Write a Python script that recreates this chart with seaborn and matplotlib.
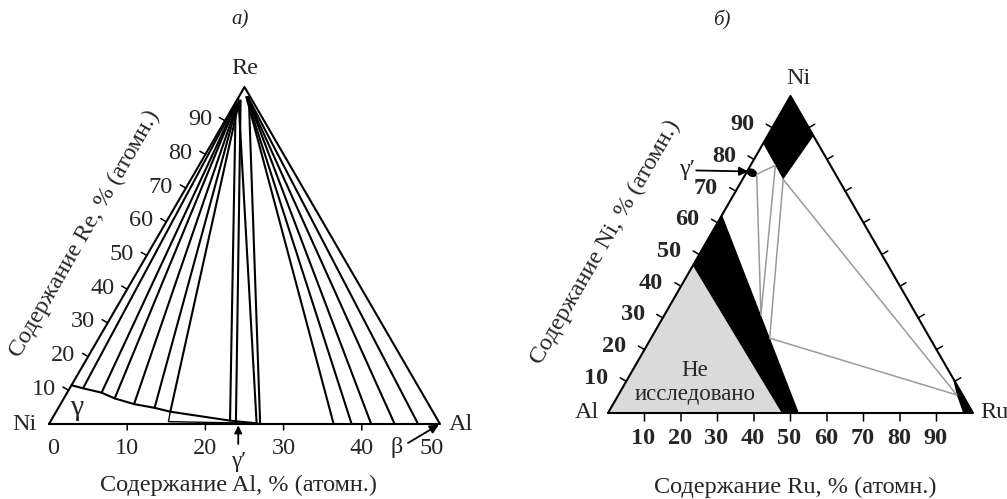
import numpy as np
import pandas as pd
import seaborn as sns
import matplotlib.pyplot as plt
from matplotlib.patches import Ellipse

# ---- а) Ni-Al-Re, compositions in at.% (Al, Re)
gamma_al = [0.0, 1.7, 4.4, 6.5, 9.4, 12.3, 14.6, 22.9, 26.5]
gamma_re = [11.5, 10.6, 9.3, 7.6, 5.9, 4.8, 3.65, 1.0, 0.2]
sliver_al = [14.6, 15.1, 26.7]
sliver_re = [3.65, 0.7, 0.2]
tie_l_al0 = [1.7, 4.4, 6.5, 9.4, 12.3, 14.6, 22.9, 23.9, 26.5, 27.0, 36.4, 38.7, 41.2, 44.2, 47.2]
tie_l_re0 = [10.6, 9.3, 7.6, 5.9, 4.8, 3.65, 1.0, 0.0, 0.2, 0.0, 0.0, 0.0, 0.0, 0.0, 0.0]
tie_l_al1 = [0.1, 0.2, 0.2, 0.3, 0.3, 0.4, 0.0, 0.5, 0.1, 1.3, 1.0, 1.0, 1.1, 1.1, 1.2]
tie_l_re1 = [94.5, 94.8, 95.0, 95.2, 95.4, 95.6, 95.5, 96.0, 96.5, 97.0, 97.0, 97.0, 97.0, 97.0, 97.0]
re_ticks = [10, 20, 30, 40, 50, 60, 70, 80, 90]
al_ticks = [10, 20, 30, 40]
al_labels = [0, 10, 20, 30, 40, 50]

# ---- б) Al-Ni-Ru, compositions in at.% (Ru, Ni)
unexpl_ru = [0.0, 47.6, 0.0]
unexpl_ni = [0.0, 0.0, 46.5]
band_ru = [0.0, 0.0, 52.3, 47.6]
band_ni = [46.5, 62.5, 0.0, 0.0]
niphase_ru = [0.0, 0.0, 11.15, 12.6]
niphase_ni = [100.0, 85.0, 73.7, 87.4]
ruphase_ru = [89.0, 92.7, 97.3, 100.0]
ruphase_ni = [11.0, 5.7, 0.0, 0.0]
gp_ru, gp_ni = 1.5, 75.8
tie_r_ru0 = [3.1, 3.4, 6.8, 11.15, 11.15, 32.5]
tie_r_ni0 = [75.3, 74.7, 78.1, 73.7, 73.7, 23.6]
tie_r_ru1 = [6.8, 26.4, 26.4, 32.5, 92.7, 92.7]
tie_r_ni1 = [78.1, 31.0, 31.0, 23.6, 5.7, 5.7]
ru_ticks = [10, 20, 30, 40, 50, 60, 70, 80, 90]
ni_ticks = [10, 20, 30, 40, 50, 60, 70, 80, 90]

SQ = np.sqrt(3) / 2


def cart_l(al, re):
    al, re = np.asarray(al, float), np.asarray(re, float)
    return al + re / 4, re


def cart_r(ru, ni):
    ru, ni = np.asarray(ru, float), np.asarray(ni, float)
    return ru + ni / 2, ni * SQ


def tie_frame(a0, b0, a1, b1, conv):
    rows = []
    for i, (p0, q0, p1, q1) in enumerate(zip(a0, b0, a1, b1)):
        for p, q in ((p0, q0), (p1, q1)):
            x, y = conv(p, q)
            rows.append(dict(tie=i, x=float(x), y=float(y)))
    return pd.DataFrame(rows)


def tick(ax, xy, dx, dy, lw=1.1):
    ax.annotate('', xy=xy, xytext=(dx, dy), textcoords='offset pixels',
                arrowprops=dict(arrowstyle='-', lw=lw, color='black', shrinkA=0, shrinkB=0),
                annotation_clip=False)


def label(ax, txt, xy, dx, dy, **kw):
    ax.annotate(txt, xy=xy, xytext=(dx, dy), textcoords='offset pixels',
                ha='center', va='center', annotation_clip=False, **kw)


sns.set_style('white')
plt.rcParams['font.family'] = ['Liberation Serif', 'DejaVu Serif']

W, H = 1007, 499
fig = plt.figure(figsize=(W / 100, H / 100), dpi=100)
axl = fig.add_axes([49 / W, (H - 424) / H, 391 / W, 337 / H])
axr = fig.add_axes([608 / W, (H - 413) / H, 365 / W, 317 / H])

FS = 17.5
TFS = 17.5
lw_main = 1.5

# ----------------- left panel
dfl = tie_frame(tie_l_al0, tie_l_re0, tie_l_al1, tie_l_re1, cart_l)
sns.lineplot(data=dfl, x='x', y='y', units='tie', estimator=None, sort=False,
             color='black', lw=lw_main, ax=axl, legend=False, clip_on=False)
gx, gy = cart_l(gamma_al, gamma_re)
axl.plot(gx, gy, color='black', lw=lw_main, clip_on=False)
sx, sy = cart_l(sliver_al, sliver_re)
axl.plot(sx, sy, color='black', lw=1.0, clip_on=False)
ox, oy = cart_l([0, 50, 0, 0], [0, 0, 100, 0])
axl.plot(ox, oy, color='black', lw=lw_main, clip_on=False)

for r in re_ticks:
    p = cart_l(0, r)
    tick(axl, p, -5.5, 3.2)
    label(axl, str(r), p, -25, 1, fontsize=TFS)
for a in al_ticks:
    tick(axl, cart_l(a, 0), 0, -6)
for a in al_labels:
    shift = {0: 4, 50: -8}.get(a, 0)
    label(axl, str(a), cart_l(a, 0), shift, -24, fontsize=TFS)

label(axl, 'Ni', cart_l(0, 0), -25, 0, fontsize=FS)
label(axl, 'Al', cart_l(50, 0), 21, -1, fontsize=FS)
label(axl, 'Re', cart_l(0, 100), 0, 18, fontsize=FS)
label(axl, 'γ', cart_l(2.4, 4.8), 0, 0, fontsize=FS + 4)
axl.annotate('', xy=cart_l(24.2, 0), xytext=(0, -20), textcoords='offset pixels',
             arrowprops=dict(arrowstyle='-|>', color='black', lw=1.3, mutation_scale=11,
                             shrinkA=0, shrinkB=1), annotation_clip=False)
label(axl, 'γ′', cart_l(24.2, 0), 0, -37, fontsize=FS - 1)
axl.annotate('', xy=cart_l(50, 0), xytext=(-32, -19), textcoords='offset pixels',
             arrowprops=dict(arrowstyle='-|>', color='black', lw=1.3, mutation_scale=13,
                             shrinkA=0, shrinkB=1), annotation_clip=False)
label(axl, 'β', cart_l(50, 0), -43, -24, fontsize=FS)
label(axl, 'Содержание Re, % (атомн.)', cart_l(0, 47), -56, 32, fontsize=FS,
      rotation=60.2, rotation_mode='anchor')

axl.set_xlim(0, 50)
axl.set_ylim(0, 100)
axl.axis('off')

# ----------------- right panel
ux, uy = cart_r(unexpl_ru, unexpl_ni)
axr.fill(ux, uy, color='#dadada', lw=0)
bx, by = cart_r(band_ru, band_ni)
axr.fill(bx, by, color='black', lw=0)
nx, ny = cart_r(niphase_ru, niphase_ni)
axr.fill(nx, ny, color='black', lw=0)
rx, ry = cart_r(ruphase_ru, ruphase_ni)
axr.fill(rx, ry, color='black', lw=0)

dfr = tie_frame(tie_r_ru0, tie_r_ni0, tie_r_ru1, tie_r_ni1, cart_r)
sns.lineplot(data=dfr, x='x', y='y', units='tie', estimator=None, sort=False,
             color='#9a9a9a', lw=1.1, ax=axr, legend=False)

bpx, bpy = cart_r(gp_ru, gp_ni)
axr.add_patch(Ellipse((float(bpx), float(bpy)), 2.6, 1.8, angle=-25, color='black'))

tx, ty = cart_r([0, 100, 0, 0], [0, 0, 100, 0])
axr.plot(tx, ty, color='black', lw=lw_main, clip_on=False)

for u in ru_ticks:
    p = cart_r(u, 0)
    tick(axr, p, 0, -8)
    label(axr, str(u), p, -1, -25, fontsize=TFS, fontweight='bold')
for n in ni_ticks:
    tick(axr, cart_r(0, n), -6.0, 3.5)
    label(axr, str(n), cart_r(0, n), -30, 3, fontsize=TFS, fontweight='bold')
    tick(axr, cart_r(100 - n, n), 6.0, 3.5)

label(axr, 'Ni', cart_r(0, 100), 8, 17, fontsize=FS)
label(axr, 'Al', cart_r(0, 0), -21, 0, fontsize=FS)
label(axr, 'Ru', cart_r(100, 0), 21, 0, fontsize=FS)
label(axr, 'Не\nисследовано', cart_r(19, 9.5), 0, 0, fontsize=FS - 1, linespacing=1.2)
axr.annotate('', xy=cart_r(0.3, 76.2), xytext=(-52, 1), textcoords='offset pixels',
             arrowprops=dict(arrowstyle='-|>', color='black', lw=1.3, mutation_scale=13,
                             shrinkA=0, shrinkB=0), annotation_clip=False)
label(axr, 'γ′', cart_r(0.3, 76.2), -61, 2, fontsize=FS)
label(axr, 'Содержание Ni, % (атомн.)', cart_r(0, 40), -76, 44, fontsize=FS,
      rotation=60, rotation_mode='anchor')

axr.set_xlim(0, 100)
axr.set_ylim(0, 100 * SQ)
axr.axis('off')

fig.text(239 / W, 1 - 485 / H, 'Содержание Al, % (атомн.)', ha='center', va='center', fontsize=FS)
fig.text(795 / W, 1 - 487 / H, 'Содержание Ru, % (атомн.)', ha='center', va='center', fontsize=FS)
fig.text(240 / W, 1 - 20 / H, 'а)', ha='center', va='center', fontsize=15, style='italic')
fig.text(722 / W, 1 - 20 / H, 'б)', ha='center', va='center', fontsize=15, style='italic')

fig.savefig('out.png', dpi=100)
